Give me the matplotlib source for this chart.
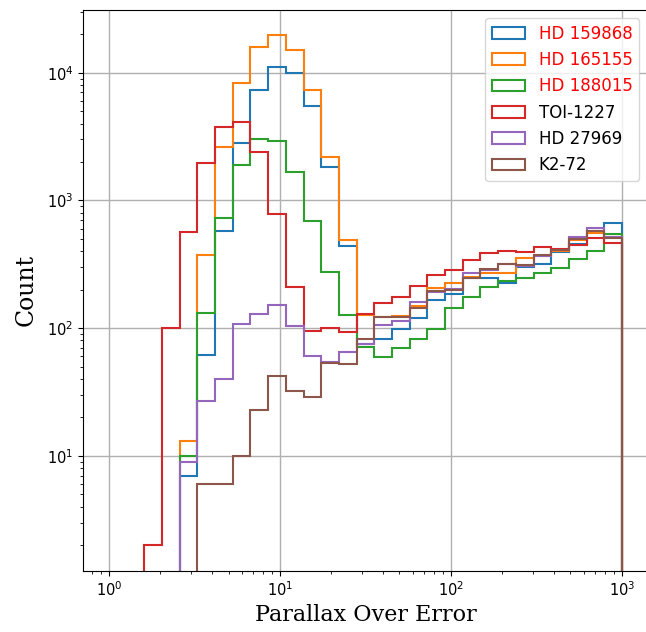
import numpy as np
import matplotlib
matplotlib.use("Agg")
import matplotlib.pyplot as plt

# 29 logarithmic bins spanning 1 to 1000
bin_edges = np.logspace(0, 3, 30)

star_names = ["HD 159868", "HD 165155", "HD 188015", "TOI-1227", "HD 27969", "K2-72"]
highlighted = [True, True, True, False, False, False]

# Counts per bin for each star's neighbour sample
counts_hd159868 = [0, 0, 0, 0, 7, 62, 575, 2800, 7330, 11100, 10000, 5500, 1840, 442,
                   75, 82, 98, 119, 166, 185, 245, 245, 225, 300, 320, 395, 455, 580, 662]
counts_hd165155 = [0, 0, 0, 0, 13, 373, 2630, 8260, 15800, 19700, 15000, 7300, 2200, 490,
                   127, 122, 125, 150, 205, 224, 253, 270, 268, 352, 365, 400, 490, 555, 515]
counts_hd188015 = [0, 0, 0, 0, 10, 131, 725, 1890, 3030, 2940, 1670, 690, 273, 127,
                   71, 59, 70, 82, 98, 143, 176, 211, 232, 245, 269, 294, 346, 404, 545]
counts_toi1227 = [0, 0, 2, 100, 570, 1970, 3780, 4130, 2400, 785, 209, 95, 100, 94,
                  129, 157, 176, 215, 261, 285, 341, 385, 404, 395, 430, 415, 448, 510, 467]
counts_hd27969 = [0, 0, 0, 0, 9, 27, 40, 108, 128, 152, 104, 60, 54, 65,
                  75, 106, 114, 161, 193, 201, 269, 285, 318, 306, 370, 410, 520, 604, 520]
counts_k272 = [0, 0, 0, 0, 0, 6, 6, 10, 23, 42, 32, 29, 53, 52,
               82, 122, 122, 143, 195, 199, 245, 289, 316, 312, 373, 410, 500, 576, 511]

all_counts = [counts_hd159868, counts_hd165155, counts_hd188015,
              counts_toi1227, counts_hd27969, counts_k272]

fig = plt.figure(figsize=(6.46, 6.32), dpi=100)
ax = fig.add_axes([0.129, 0.0973, 0.8735, 0.8875])

for name, counts in zip(star_names, all_counts):
    ax.hist(bin_edges[:-1], bins=bin_edges, weights=counts, histtype="step",
            log=True, linewidth=1.5, label=name)

ax.set_xscale("log")
ax.set_xlim(10 ** -0.15, 10 ** 3.15)
ax.set_ylim(10 ** 0.1016, 10 ** 4.494)

ax.grid(True, color="#b0b0b0", linewidth=1.0)
ax.set_axisbelow(True)
ax.tick_params(labelsize=10.5)

ax.set_xlabel("Parallax Over Error", fontsize=16, family="DejaVu Serif")
ax.set_ylabel("Count", fontsize=17, family="DejaVu Serif", labelpad=7)

leg = ax.legend(loc="upper right", fontsize=12)
for text, hl in zip(leg.get_texts(), highlighted):
    if hl:
        text.set_color("red")

fig.savefig("out.png", dpi=100)
